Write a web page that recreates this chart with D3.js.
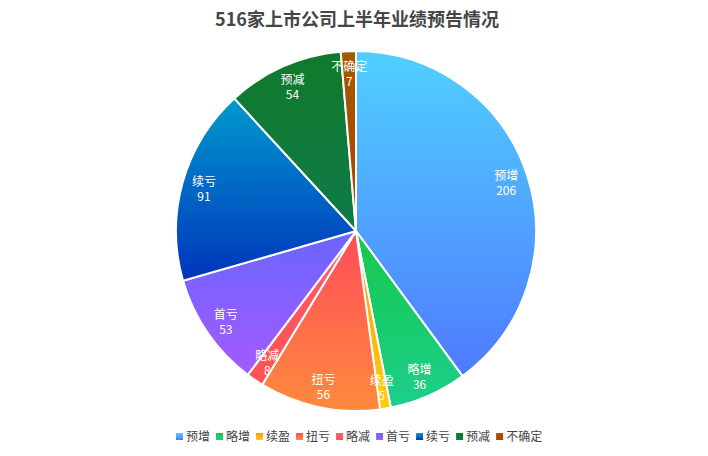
<!DOCTYPE html>
<html>
<head>
<meta charset="utf-8">
<script src="https://cdn.jsdelivr.net/npm/d3@7"></script>
<style>
  body { margin: 0; background: #fff; }
  text { font-family: "Noto Sans CJK SC", "Noto Sans", sans-serif; }
</style>
</head>
<body>
<script>
var categories = ['预增', '略增', '续盈', '扭亏', '略减', '首亏', '续亏', '预减', '不确定'];
var values = [206, 36, 5, 56, 8, 53, 91, 54, 7];
var colorTop = ['#50d0ff', '#16c84c', '#ff9a00', '#ff4c5a', '#ff5a72', '#6a66ff', '#009acc', '#107a2a', '#a05c00'];
var colorBottom = ['#4f7aff', '#1ccf8c', '#ffcc10', '#ff8a3c', '#ff5252', '#a45aff', '#0034bc', '#107a4a', '#b04000'];

var w = 708, h = 456;
var cx = 356, cy = 231, radius = 180;

var svg = d3.select('body').append('svg')
            .attr('width', w)
            .attr('height', h);

var defs = svg.append('defs');
categories.forEach(function(c, i){
  var g = defs.append('linearGradient')
              .attr('id', 'grad' + i)
              .attr('x1', 0).attr('y1', 0)
              .attr('x2', 0).attr('y2', 1);
  g.append('stop').attr('offset', '0%').attr('stop-color', colorTop[i]);
  g.append('stop').attr('offset', '100%').attr('stop-color', colorBottom[i]);
});

svg.append('text')//Title
    .attr('x', 357)
    .attr('y', 26)
    .attr('text-anchor', 'middle')
    .style('font-size', '18px')
    .style('font-weight', 'bold')
    .style('fill', '#464646')
    .text('516家上市公司上半年业绩预告情况');

var data = categories.map(function(c, i){
  return { name: c, value: values[i], idx: i };
});

var pie = d3.pie()
            .sort(null)
            .value(function(d){ return d.value; });
var arc = d3.arc().innerRadius(0).outerRadius(radius);
var labelArc = d3.arc().innerRadius(158).outerRadius(158);

var chart = svg.append('g')
              .attr('transform', 'translate(' + cx + ',' + cy + ')');

var arcs = pie(data);

chart.selectAll('.slice')
    .data(arcs)
    .enter()
      .append('path')
      .classed('slice', true)
      .attr('d', arc)
      .attr('fill', function(d){ return 'url(#grad' + d.data.idx + ')'; })
      .attr('stroke', '#fff')
      .attr('stroke-width', 2)
      .attr('stroke-linejoin', 'round');

var labels = chart.selectAll('.label')
    .data(arcs)
    .enter()
      .append('text')
      .classed('label', true)
      .attr('transform', function(d){ return 'translate(' + labelArc.centroid(d) + ')'; })
      .attr('text-anchor', 'middle')
      .style('font-size', '12px')
      .style('fill', '#fff');
labels.append('tspan')
    .attr('x', 0)
    .attr('y', -2)
    .text(function(d){ return d.data.name; });
labels.append('tspan')
    .attr('x', 0)
    .attr('y', 13)
    .text(function(d){ return d.data.value; });

// legend
var legend = svg.append('g').attr('transform', 'translate(0,437)');
var xPos = 176;
categories.forEach(function(c, i){
  var item = legend.append('g').attr('transform', 'translate(' + xPos + ',0)');
  item.append('rect')
      .attr('x', 0).attr('y', -4)
      .attr('width', 7).attr('height', 7)
      .attr('fill', 'url(#grad' + i + ')');
  var t = item.append('text')
      .attr('x', 10)
      .attr('y', 4)
      .style('font-size', '12px')
      .style('fill', '#444')
      .text(c);
  xPos += 10 + t.node().getComputedTextLength() + 6;
});
</script>
</body>
</html>
